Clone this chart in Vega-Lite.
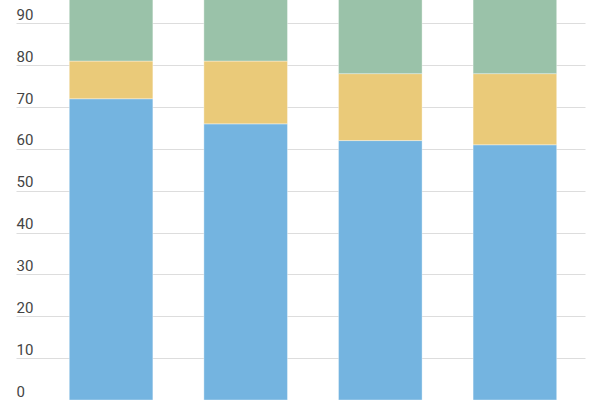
{
  "$schema": "https://vega.github.io/schema/vega-lite/v6.json",
  "width": 569,
  "height": 400,
  "autosize": {"type": "none"},
  "padding": {"left": 16, "right": 15, "top": 0, "bottom": 0},
  "background": "white",
  "config": {"view": {"stroke": null}},
  "data": {
    "values": [
      {"group": "A", "part": "Blue", "order": 1, "value": 72},
      {"group": "A", "part": "Yellow", "order": 2, "value": 9},
      {"group": "A", "part": "Green", "order": 3, "value": 19},
      {"group": "B", "part": "Blue", "order": 1, "value": 66},
      {"group": "B", "part": "Yellow", "order": 2, "value": 15},
      {"group": "B", "part": "Green", "order": 3, "value": 19},
      {"group": "C", "part": "Blue", "order": 1, "value": 62},
      {"group": "C", "part": "Yellow", "order": 2, "value": 16},
      {"group": "C", "part": "Green", "order": 3, "value": 22},
      {"group": "D", "part": "Blue", "order": 1, "value": 61},
      {"group": "D", "part": "Yellow", "order": 2, "value": 17},
      {"group": "D", "part": "Green", "order": 3, "value": 22}
    ]
  },
  "mark": {"type": "bar", "clip": true, "stroke": "#ffffff", "strokeWidth": 0.6, "strokeOpacity": 0.6},
  "encoding": {
    "x": {
      "field": "group",
      "type": "nominal",
      "axis": null,
      "scale": {"paddingInner": 0.379, "paddingOuter": 0.303, "align": 0.653}
    },
    "y": {
      "field": "value",
      "type": "quantitative",
      "stack": "zero",
      "scale": {"domain": [0, 95.6], "nice": false},
      "axis": {
        "title": null,
        "values": [0, 10, 20, 30, 40, 50, 60, 70, 80, 90],
        "domain": false,
        "ticks": false,
        "tickSize": 0,
        "labelPadding": 0,
        "labelAlign": "left",
        "labelBaseline": "alphabetic",
        "labelOffset": -4,
        "labelFont": "Roboto",
        "labelFontSize": 15,
        "labelColor": "#444444",
        "gridColor": "#dddddd",
        "gridWidth": 1,
        "zindex": 0
      }
    },
    "color": {
      "field": "part",
      "type": "nominal",
      "legend": null,
      "scale": {"domain": ["Blue", "Yellow", "Green"], "range": ["#74b4e0", "#eaca79", "#9ac2a9"]}
    },
    "order": {"field": "order", "type": "quantitative"}
  }
}
